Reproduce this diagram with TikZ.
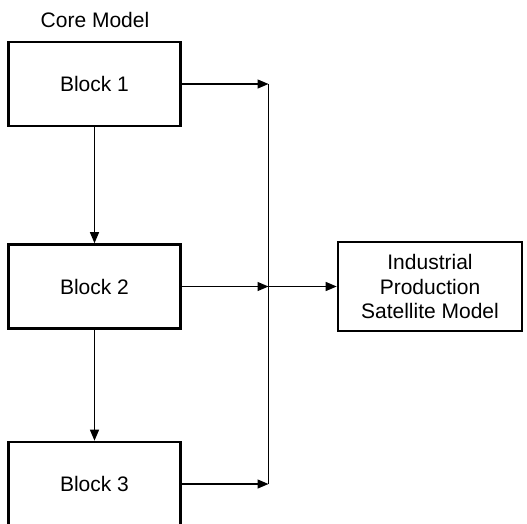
\documentclass[tikz,border=0pt]{standalone}
\usepackage{fontspec}
\setmainfont{Liberation Sans}
\usetikzlibrary{arrows.meta}
\tikzset{
  block/.style={draw, line width=2.6pt, minimum width=172pt, minimum height=84pt,
    inner sep=0pt, align=center, font=\fontsize{21}{24.5}\selectfont},
  flow/.style={line width=1.3pt, -{Triangle[length=11pt,width=9pt]}},
}
\begin{document}
\begin{tikzpicture}[x=1pt,y=-1pt]
		%%%%% START %%%%%
		\useasboundingbox (0,0) rectangle (527,523);
		
		\node[font=\fontsize{21}{24.5}\selectfont] (core) at (95,19.5) {Core Model};
		
		\node[block] (blk1) at (94.5,84) {Block 1};
		\node[block] (blk2) at (94.5,286.5) {Block 2};
		\node[block] (blk3) at (94.5,484) {Block 3};
		
		\node[block, minimum width=184pt, minimum height=89pt] (sat) at (430,286.5)
			{Industrial\\Production\\Satellite Model};
		
		% collecting line on the right of the blocks
		\coordinate (bus1) at (268.5,84);
		\coordinate (bus2) at (268.5,286.5);
		\coordinate (bus3) at (268.5,484);
		\draw[line width=1.3pt] (bus1) -- (bus3);
		
		\draw[flow] (blk1) -- (blk2);
		\draw[flow] (blk2) -- (blk3);
		\draw[flow] (blk1) -- (bus1);
		\draw[flow] (blk2) -- (bus2);
		\draw[flow] (blk3) -- (bus3);
		\draw[flow] (bus2) -- (sat);
		
		%%%%% END %%%%%
\end{tikzpicture}
\end{document}
